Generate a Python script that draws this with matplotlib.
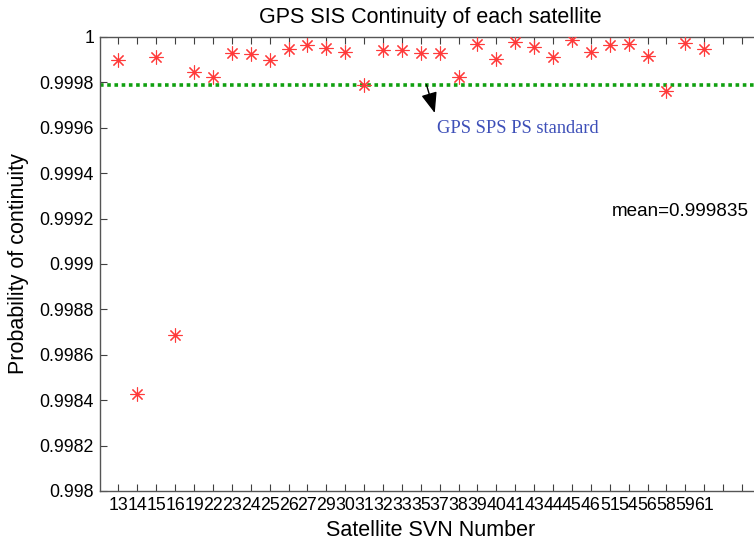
import matplotlib
matplotlib.use("Agg")
import matplotlib.pyplot as plt
import numpy as np

plt.rcParams['font.family'] = ['Liberation Sans', 'DejaVu Sans']

svn_labels = ['13', '14', '15', '16', '19', '22', '23', '24', '25', '26', '27', '29',
              '30', '31', '32', '33', '35', '37', '38', '39', '40', '41', '43', '44',
              '45', '46', '51', '54', '56', '58', '59', '61']
continuity = [0.99990, 0.998427, 0.99991, 0.998689, 0.999846, 0.999825, 0.99993, 0.999925,
              0.99990, 0.999947, 0.999963, 0.999953, 0.999935, 0.99979, 0.999944, 0.999944,
              0.99993, 0.99993, 0.999824, 0.99997, 0.999904, 0.99998, 0.999954, 0.999912,
              0.999985, 0.999932, 0.999963, 0.99997, 0.999915, 0.999763, 0.999974, 0.999947]
standard = 0.99979
mean_text = 'mean=0.999835'
y_ticks = [0.998, 0.9982, 0.9984, 0.9986, 0.9988, 0.999, 0.9992, 0.9994, 0.9996, 0.9998, 1.0]
y_tick_labels = ['0.998', '0.9982', '0.9984', '0.9986', '0.9988', '0.999', '0.9992',
                 '0.9994', '0.9996', '0.9998', '1']

fig = plt.figure(figsize=(7.54, 5.47), dpi=100)
ax = fig.add_axes([0.1321, 0.1024, 0.877, 0.830])

x = np.arange(1, len(continuity) + 1)
ax.axhline(standard, color='#10a010', linestyle=(0, (1, 1)), linewidth=2.6, zorder=2)
ax.plot(x, continuity, linestyle='none', marker=(8, 2, 0), markersize=10, color='#ff3a3a',
        markeredgewidth=0.8, zorder=3)

ax.set_xlim(0, 35)
ax.set_ylim(0.998, 1.0)
xt = np.arange(1, 35)
ax.set_xticks(xt)
ax.set_xticklabels(svn_labels + [''] * (len(xt) - len(svn_labels)))
ax.set_yticks(y_ticks)
ax.set_yticklabels(y_tick_labels)
ax.tick_params(direction='in', top=True, right=True, length=5, width=0.8,
               color='#404040', labelsize=12.8, pad=4)
for s in ax.spines.values():
    s.set_color('#555555')
    s.set_linewidth(1.0)

ax.set_title('GPS SIS Continuity of each satellite', fontsize=15.5, pad=10)
ax.set_xlabel('Satellite SVN Number', fontsize=15.5, labelpad=5)
ax.set_ylabel('Probability of continuity', fontsize=15.5, labelpad=8)

ax.annotate('', xy=(17.74, 0.999665), xytext=(17.3, standard),
            arrowprops=dict(arrowstyle='-|>,head_length=0.9,head_width=0.35',
                            color='black', lw=1.0,
                            mutation_scale=14, shrinkA=0, shrinkB=0))
ax.text(17.84, 0.999599, 'GPS SPS PS standard', color='#3d4fb8', fontsize=13.3,
        family=['Liberation Serif', 'DejaVu Serif'], va='center', ha='left')
ax.text(27.1, 0.999229, mean_text, color='black', fontsize=13.6, va='center', ha='left')

fig.savefig('out.png', dpi=100)
